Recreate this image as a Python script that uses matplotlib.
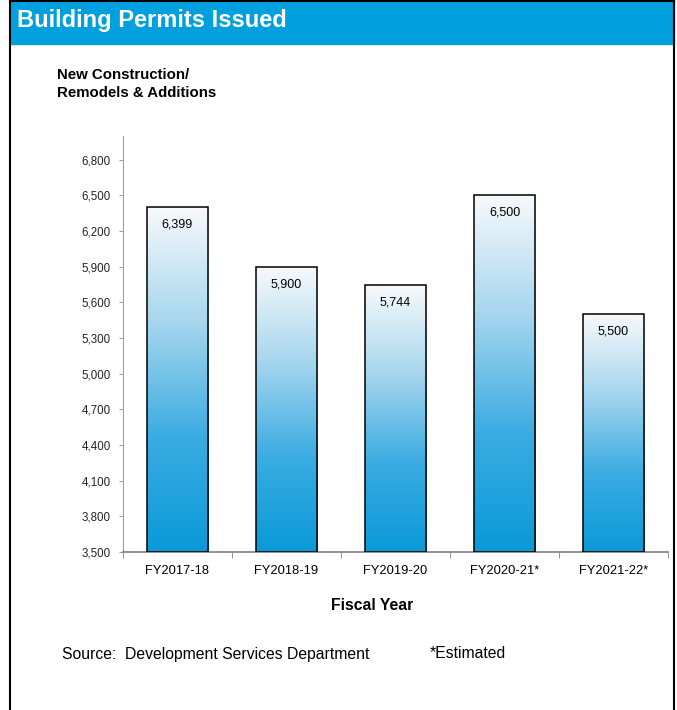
import numpy as np
import matplotlib.pyplot as plt
from matplotlib.colors import LinearSegmentedColormap
from matplotlib.patches import Rectangle

years = ["FY2017-18", "FY2018-19", "FY2019-20", "FY2020-21*", "FY2021-22*"]
permits = [6399, 5900, 5744, 6500, 5500]
yticks = list(range(3500, 6801, 300))

fig = plt.figure(figsize=(6.77, 7.10), dpi=100)
plt.rcParams['font.family'] = ['Liberation Sans', 'DejaVu Sans']

# header band and frame
fig.patches.append(Rectangle((10 / 677, 1 - 44 / 710), 664 / 677, 44 / 710,
                             transform=fig.transFigure, color="#009fdd", zorder=0))
fig.add_artist(plt.Line2D([10 / 677, 10 / 677], [0, 1], color="black", lw=1.5))
fig.add_artist(plt.Line2D([674 / 677, 674 / 677], [0, 1], color="black", lw=1.5))
fig.add_artist(plt.Line2D([10 / 677, 674 / 677], [0.999, 0.999], color="black", lw=1.5))
fig.text(17 / 677, 1 - 21 / 710, "Building Permits Issued", color="white",
         fontsize=17, fontweight="bold", va="center")
fig.text(57 / 677, 1 - 75 / 710, "New Construction/", fontsize=10.8, fontweight="bold", va="center")
fig.text(57 / 677, 1 - 93 / 710, "Remodels & Additions", fontsize=10.8, fontweight="bold", va="center")

ax = fig.add_axes([123 / 677, 1 - 552 / 710, 545 / 677, 416 / 710])
ax.set_xlim(-0.5, len(years) - 0.5)
ax.set_ylim(3500, 7000)

cmap = LinearSegmentedColormap.from_list("grad", ["#f7f9fb", "#a6d6ee", "#3bace2", "#0a9ad8"])
grad = np.linspace(0, 1, 256).reshape(-1, 1)
width = 0.56
for i, v in enumerate(permits):
    x0 = i - width / 2
    im = ax.imshow(grad, cmap=cmap, extent=(x0, x0 + width, 3500, v),
                   aspect="auto", zorder=2, interpolation="bilinear")
    rect = Rectangle((x0, 3500), width, v - 3500, fill=False, edgecolor="black", lw=1.1, zorder=3)
    ax.add_patch(rect)
    im.set_clip_path(rect)
    ax.text(i, v - 95, f"{v:,}", ha="center", va="top", fontsize=9, zorder=4)

ax.set_yticks(yticks)
ax.set_yticklabels([f"{t:,}" for t in yticks], fontsize=8.3, color="#222222")
ax.set_xticks(range(len(years)))
ax.set_xticklabels(years, fontsize=9.3)
ax.set_xticks(np.arange(-0.5, len(years), 1), minor=True)
ax.tick_params(axis="x", which="major", length=0, pad=9)
ax.tick_params(axis="x", which="minor", length=4, color="#808080", direction="out")
ax.tick_params(axis="y", length=3, color="#a0a0a0", pad=6)
for s in ["top", "right"]:
    ax.spines[s].set_visible(False)
ax.spines["left"].set_color("#a0a0a0")
ax.spines["bottom"].set_color("#808080")
ax.spines["bottom"].set_linewidth(1.2)

fig.text(372 / 677, 1 - 605 / 710, "Fiscal Year", fontsize=11.3, fontweight="bold",
         ha="center", va="center")
fig.text(62 / 677, 1 - 654 / 710, "Source:  Development Services Department", fontsize=11.3, va="center")
fig.text(430 / 677, 1 - 654 / 710, "*Estimated", fontsize=11.3, va="center")

fig.savefig("out.png", dpi=100)
